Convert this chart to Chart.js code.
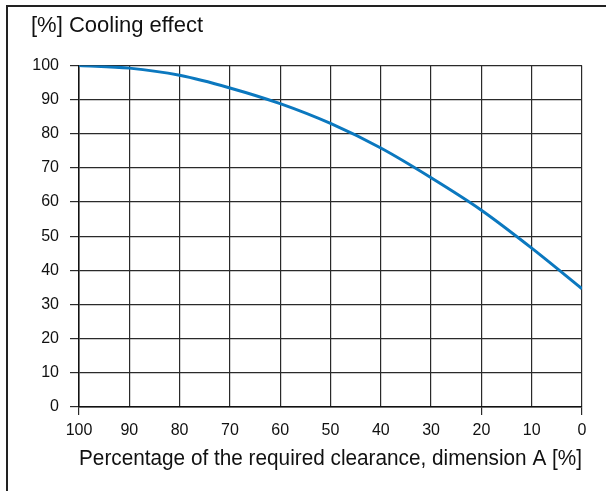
<!DOCTYPE html>
<html lang="en">
<head>
	<meta charset="utf-8">
	<title>Cooling effect</title>
	<style>
body {
	margin: 0;
	background: #fff;
}
#chartWrapper {
	position: relative;
	width: 606px;
	height: 491px;
}
#frame {
	position: absolute;
	left: 6px;
	top: 5px;
	width: 640px;
	height: 520px;
	border-left: 2px solid #222;
	border-top: 2px solid #222;
	pointer-events: none;
}
	</style>
</head>
<body>

<div id="chartWrapper">
  <canvas id="myChart"></canvas>
  <div id="frame"></div>
</div>

<script src="https://cdn.jsdelivr.net/npm/chart.js"></script>
<script>
// clearance (%) going from 100 down to 0
const clearance = [100, 90, 80, 70, 60, 50, 40, 30, 20, 10, 0];
const coolingEffect = [100, 99.2, 97.1, 93.4, 88.8, 83, 75.8, 67.1, 57.6, 46.5, 34.6];
const xTickMarks = [100, 20, 0];

const ctx = document.getElementById('myChart');

new Chart(ctx, {
	type: 'line',
	data: {
		datasets: [{
			label: 'Cooling effect',
			data: clearance.map((x, i) => ({ x: x, y: coolingEffect[i] })),
			borderColor: '#0b78bf',
			borderWidth: 3,
			pointRadius: 0,
			cubicInterpolationMode: 'monotone',
			fill: false
		}]
	},
	options: {
		responsive: true,
		maintainAspectRatio: false,
		animation: false,
		layout: {
			padding: { left: 31, right: 24, top: 0, bottom: 19 }
		},
		plugins: {
			legend: { display: false },
			tooltip: { enabled: false },
			title: {
				display: true,
				text: '[%] Cooling effect',
				align: 'start',
				color: '#111',
				font: { family: 'Liberation Sans', size: 22, weight: 'normal' },
				padding: { top: 13, bottom: 26 }
			}
		},
		scales: {
			x: {
				type: 'linear',
				reverse: true,
				min: 0,
				max: 100,
				ticks: {
					stepSize: 10,
					color: '#111',
					padding: 6,
					maxRotation: 0,
					font: { family: 'Liberation Sans', size: 16 }
				},
				grid: {
					color: '#2a2a2a',
					lineWidth: 1.2,
					tickLength: 8,
					tickColor: c => xTickMarks.includes(c.tick.value) ? '#2a2a2a' : 'rgba(0,0,0,0)'
				},
				border: { color: '#111', width: 1.5 },
				title: {
					display: true,
					text: 'Percentage of the required clearance, dimension A [%]',
					color: '#111',
					font: { family: 'Liberation Sans', size: 21.6 },
					padding: { top: 0, bottom: 0 }
				}
			},
			y: {
				min: 0,
				max: 100,
				ticks: {
					stepSize: 10,
					color: '#111',
					padding: 11,
					font: { family: 'Liberation Sans', size: 16 }
				},
				grid: {
					color: '#2a2a2a',
					lineWidth: 1.2,
					tickLength: 9
				},
				border: { color: '#111', width: 1.5 },
				afterFit: scale => { scale.width = 48; }
			}
		}
	}
});
</script>
</body>
</html>
